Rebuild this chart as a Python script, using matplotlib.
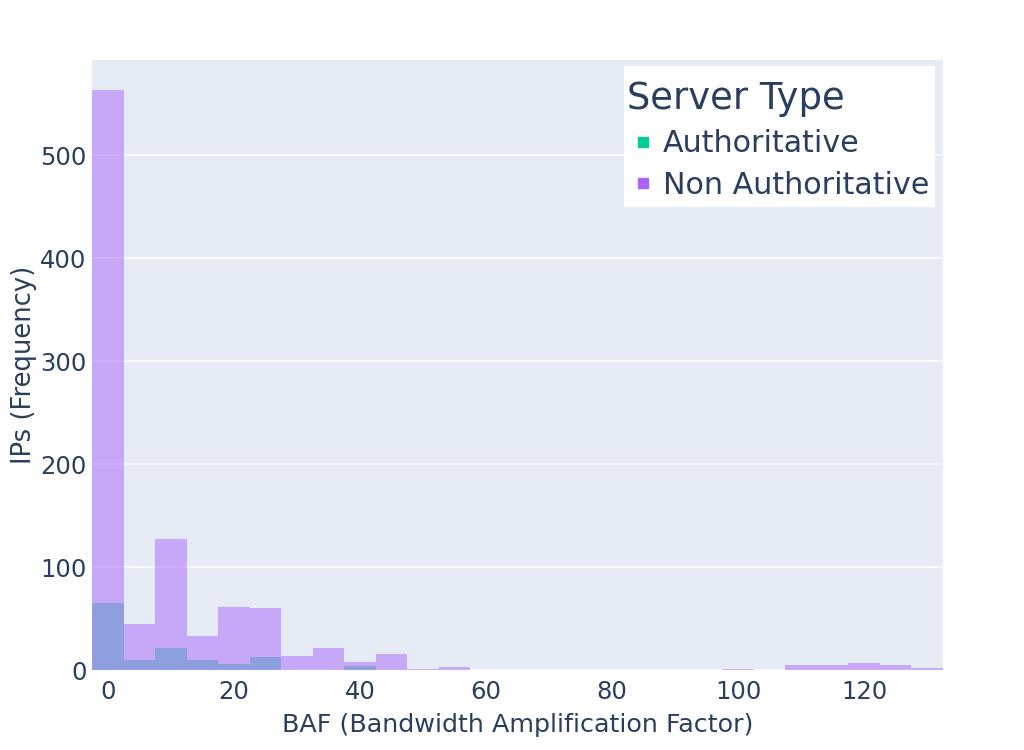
import matplotlib
matplotlib.use("Agg")
import matplotlib.pyplot as plt
from matplotlib.lines import Line2D
from matplotlib.patches import Rectangle
import numpy as np

# Histogram bins (BAF), width 5, centered on multiples of 5
bin_centers = [0, 5, 10, 15, 20, 25, 30, 35, 40, 45, 50, 55, 60, 65, 70, 75, 80,
               85, 90, 95, 100, 105, 110, 115, 120, 125, 130]
bin_width = 5
authoritative = [65, 10, 21, 10, 6, 13, 0, 0, 4, 0, 0, 0, 0, 0, 0, 0, 0,
                 0, 0, 0, 0, 0, 0, 0, 0, 0, 0]
non_authoritative = [563, 45, 127, 33, 61, 60, 14, 21, 8, 16, 1, 3, 0, 0, 0, 0, 0,
                     0, 0, 0, 1, 0, 5, 5, 7, 5, 2]
series_names = ["Authoritative", "Non Authoritative"]
colors = ["#00CC96", "#AB63FA"]
x_ticks = [0, 20, 40, 60, 80, 100, 120]
y_ticks = [0, 100, 200, 300, 400, 500]

text_color = "#2a3f5f"
plt.rcParams['font.family'] = ['DejaVu Sans']

fig = plt.figure(figsize=(10.24, 7.5), dpi=100)
ax = fig.add_axes([92/1024, 1-670/750, (943-92)/1024, (670-60)/750])
ax.set_facecolor("#E5ECF6")

for vals, c in zip([authoritative, non_authoritative], colors):
    ax.bar(bin_centers, vals, width=bin_width, color=c, alpha=0.5, linewidth=0, zorder=3)

ax.set_xlim(bin_centers[0] - bin_width/2, bin_centers[-1] + bin_width/2)
ax.set_ylim(0, 592.6)
ax.set_xticks(x_ticks)
ax.set_yticks(y_ticks)
ax.grid(axis='y', color='white', linewidth=1.1, zorder=1)
ax.set_axisbelow(True)
for s in ax.spines.values():
    s.set_visible(False)
ax.tick_params(axis='both', length=0, labelsize=17.5, colors=text_color)
ax.tick_params(axis='x', pad=7)
ax.tick_params(axis='y', pad=4)

ax.set_xlabel("BAF (Bandwidth Amplification Factor)", fontsize=18.3, color=text_color)
ax.set_ylabel("IPs (Frequency)", fontsize=18.6, color=text_color)
ax.xaxis.set_label_coords(0.5, -0.09)
ax.xaxis.label.set_va('center')
ax.yaxis.set_label_coords(-0.080, 0.5)
ax.yaxis.label.set_va('center')

# legend background box
box = Rectangle((624/1024, 1-207/750), (935-624)/1024, (207-66)/750,
                transform=fig.transFigure, facecolor='white', edgecolor='none',
                zorder=9, clip_on=False)
ax.add_patch(box)

handles = [Line2D([0], [0], marker='s', linestyle='none', markersize=7.5,
                  markerfacecolor=c, markeredgecolor=c) for c in colors]
leg = ax.legend(handles, series_names, title="Server Type", loc='upper right',
                bbox_to_anchor=(935/1024, 1-75/750), bbox_transform=fig.transFigure,
                fontsize=21.7, title_fontsize=26.6, frameon=False,
                handletextpad=0.13, handlelength=1.07, borderpad=0.18, labelspacing=0.4,
                alignment='left', borderaxespad=0)
leg.set_zorder(10)
for t in leg.get_texts():
    t.set_color(text_color)
leg.get_title().set_color(text_color)

fig.savefig("out.png", dpi=100, facecolor='white')
